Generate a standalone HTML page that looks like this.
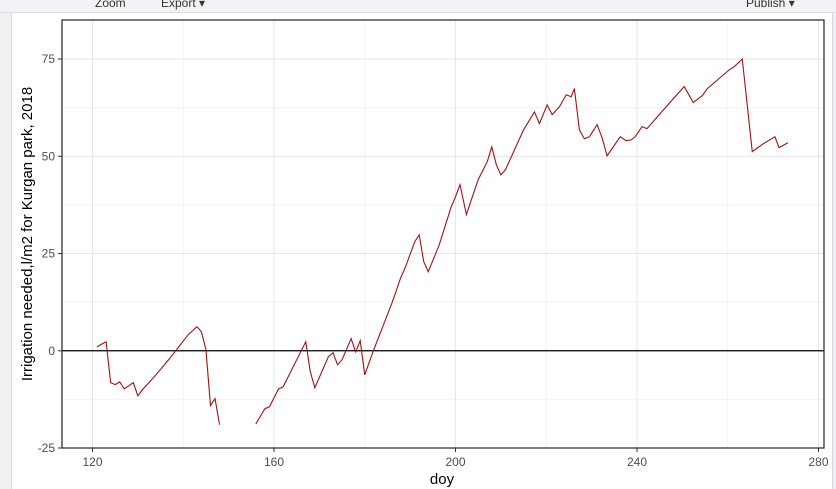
<!DOCTYPE html>
<html><head><meta charset="utf-8"><style>
body{margin:0;width:836px;height:489px;overflow:hidden;background:#fff;font-family:"Liberation Sans",sans-serif}
</style></head><body>
<div style="position:absolute;left:0;top:0;width:836px;height:12px;background:#f2f3f5;border-bottom:1px solid #d8dbe0;font-size:12px;color:#333">
<span style="position:absolute;left:95px;top:-4px">Zoom</span>
<span style="position:absolute;left:161px;top:-4px">Export ▾</span>
<span style="position:absolute;left:746px;top:-4px">Publish ▾</span>
</div>
<div style="position:absolute;left:0;top:13px;width:11px;height:476px;background:#f0f1f3;border-right:1px solid #d8dbe0"></div>
<div style="position:absolute;left:832px;top:13px;width:4px;height:476px;background:#f0f1f3;border-left:1px solid #d8dbe0"></div>
<svg id="chart" width="836" height="489" style="position:absolute;left:0;top:0">
</svg>
<script>
const xTicks=[120,160,200,240,280];
const yTicks=[-25,0,25,50,75];
const seg1Days=[121,122,123,124,125,126,127,129,130,131,133,135,137,139,141,143,144,145,146,147,148];
const seg1Vals=[1,1.7,2.3,-8.2,-8.7,-8,-9.8,-8.2,-11.6,-10,-7.5,-4.8,-2,1,4,6.2,4.9,0.3,-14.1,-12.3,-19];
const seg2Days=[156,158,159,161,162,167,168,169,172,173,174,175,177,178,179,180,182,186,188,189,191,192,193,194,196.4,199,200,201,202.4,205,207,208,209,210,211,215,217.4,218.5,220.2,221.3,222.9,224.4,225.5,226.2,227.3,228.4,229.5,231.2,232.3,233.4,236.3,237.6,238.7,239.6,241.1,242.2,246.4,250.4,252.4,254.4,255.5,260.3,261.4,263.2,265.4,267.8,270.4,271.3,273.3];
const seg2Vals=[-18.8,-14.9,-14.4,-9.8,-9.3,2.3,-5.4,-9.5,-1.5,-0.5,-3.6,-2.3,3.1,-0.3,2.6,-6.2,0.3,12.3,19,21.6,28,29.8,22.9,20.3,27.2,36.8,39.6,42.7,35,44,48.6,52.4,47.8,45.2,46.5,56.8,61.4,58.4,63.2,60.7,62.7,65.8,65.3,67.4,56.8,54.5,55,58.1,54.8,50.1,55,54,54.2,55,57.6,57.1,62.7,67.9,63.8,65.6,67.4,72.2,73,75,51.2,53.2,55,52.2,53.5];
const L=62,R=824,T=20,B=448;
const X=d=>92.5+(d-120)*(274-92.5)/40;
const Y=v=>448-(v+25)*(448-59)/100;
const svg=document.getElementById('chart');
const NS='http://www.w3.org/2000/svg';
function mk(tag,attrs){const e=document.createElementNS(NS,tag);for(const k in attrs)e.setAttribute(k,attrs[k]);svg.appendChild(e);return e;}
// minor grid
for(let i=0;i<xTicks.length-1;i++){const m=(xTicks[i]+xTicks[i+1])/2;const x=X(m);if(x>L&&x<R){const g=mk('line',{x1:x,x2:x,y1:T,y2:B,stroke:'#f2f2f2','stroke-width':1});}}
for(let i=0;i<yTicks.length;i++){const m=yTicks[i]+12.5;const y=Y(m);if(y>T&&y<B){const g=mk('line',{x1:L,x2:R,y1:y,y2:y,stroke:'#f2f2f2','stroke-width':1});}}
xTicks.forEach(t=>{const x=X(t);
const g=mk('line',{x1:x,x2:x,y1:T,y2:B,stroke:'#e6e6e6','stroke-width':1});
const tk=mk('line',{x1:x,x2:x,y1:B,y2:B+4,stroke:'#333'});
const tx=mk('text',{x:x,y:B+18,'text-anchor':'middle','font-size':12,fill:'#4d4d4d'});tx.textContent=t;});
yTicks.forEach(t=>{const y=Y(t);
const g=mk('line',{x1:L,x2:R,y1:y,y2:y,stroke:'#e6e6e6','stroke-width':1});
const tk=mk('line',{x1:L-4,x2:L,y1:y,y2:y,stroke:'#333'});
const tx=mk('text',{x:L-7,y:y+4,'text-anchor':'end','font-size':12,fill:'#4d4d4d'});tx.textContent=t;});
const z=mk('line',{x1:L,x2:R,y1:Y(0),y2:Y(0),stroke:'#000','stroke-width':1.3});


function series(days,vals,name){const p=mk('polyline',{points:days.map((d,i)=>X(d)+','+Y(vals[i])).join(' '),fill:'none',stroke:'#9b1414','stroke-width':1.1});

}
series(seg1Days,seg1Vals,'irrigation-line-segment-1');
series(seg2Days,seg2Vals,'irrigation-line-segment-2');
const fr=mk('rect',{x:L,y:T,width:R-L,height:B-T,fill:'none',stroke:'#333','stroke-width':1.3});


const xt=mk('text',{x:(L+R)/2-1,y:484,'text-anchor':'middle','font-size':15,fill:'#000'});xt.textContent='doy';


const yt=mk('text',{x:0,y:0,'text-anchor':'middle','font-size':15,fill:'#000',transform:'translate(32,'+((T+B)/2)+') rotate(-90)'});yt.textContent='Irrigation needed,l/m2 for Kurgan park, 2018';


</script>
</body></html>
